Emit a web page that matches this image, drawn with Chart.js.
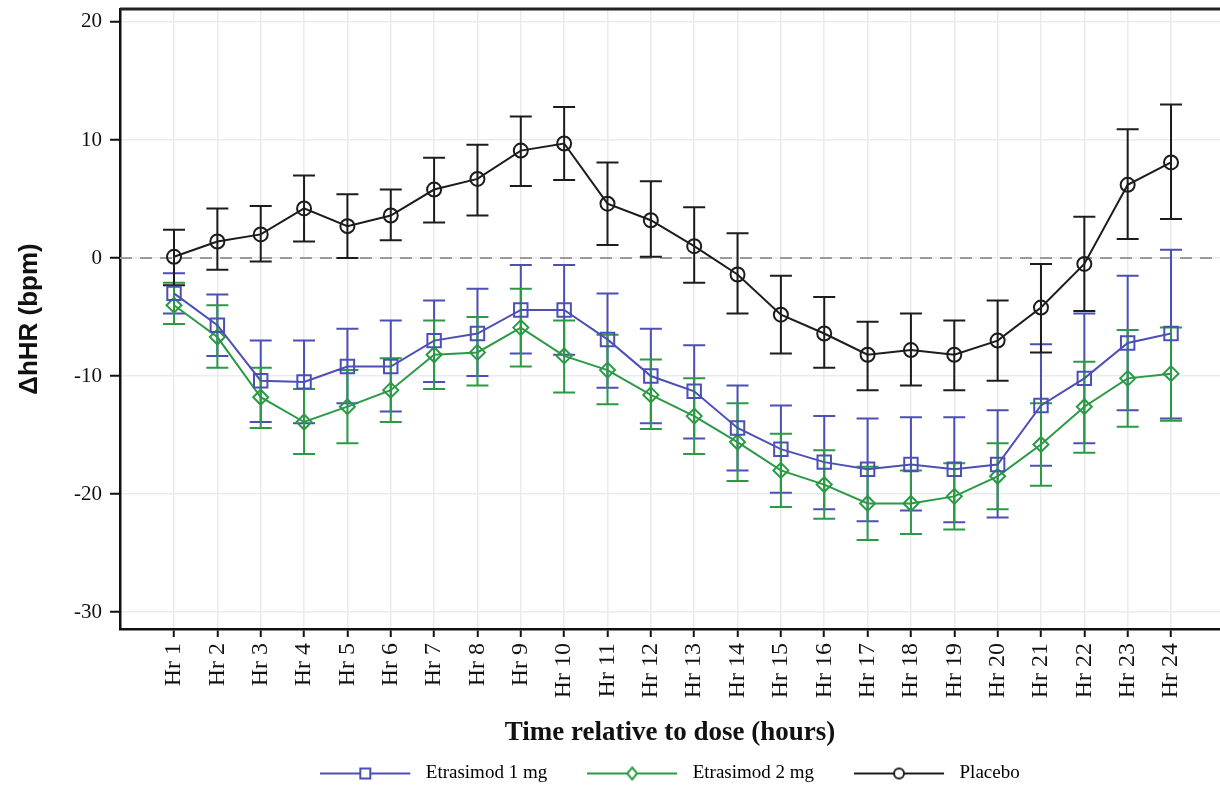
<!DOCTYPE html>
<html>
<head>
<meta charset="utf-8">
<script src="https://cdn.jsdelivr.net/npm/chart.js@4.4.1/dist/chart.umd.min.js"></script>
<style>
  html, body { margin: 0; padding: 0; background: #fff; overflow: hidden; }
  #wrap { width: 1220px; height: 793px; }
  canvas { display: block; }
</style>
</head>
<body>
<div id="wrap"><canvas id="hrChart"></canvas></div>
<script>
// hour labels on the x axis
const hours = ['Hr 1', 'Hr 2', 'Hr 3', 'Hr 4', 'Hr 5', 'Hr 6', 'Hr 7', 'Hr 8', 'Hr 9', 'Hr 10', 'Hr 11', 'Hr 12',
    'Hr 13', 'Hr 14', 'Hr 15', 'Hr 16', 'Hr 17', 'Hr 18', 'Hr 19', 'Hr 20', 'Hr 21', 'Hr 22', 'Hr 23', 'Hr 24'];
const yTicks = [-30, -20, -10, 0, 10, 20];
const refLine = 0;

// Etrasimod 1 mg
const e1 = [-3.0, -5.7, -10.4, -10.5, -9.2, -9.2, -7.0, -6.4, -4.4, -4.4, -6.9, -10.0,
    -11.3, -14.4, -16.2, -17.3, -17.9, -17.5, -17.9, -17.5, -12.5, -10.2, -7.2, -6.4];
const e1Hi = [-1.3, -3.1, -7.0, -7.0, -6.0, -5.3, -3.6, -2.6, -0.6, -0.6, -3.0, -6.0,
    -7.4, -10.8, -12.5, -13.4, -13.6, -13.5, -13.5, -12.9, -7.3, -4.7, -1.5, 0.7];
const e1Lo = [-4.7, -8.3, -13.9, -14.0, -12.3, -13.0, -10.5, -10.0, -8.1, -8.2, -11.0, -14.0,
    -15.3, -18.0, -19.9, -21.3, -22.3, -21.4, -22.4, -22.0, -17.6, -15.7, -12.9, -13.6];

// Etrasimod 2 mg
const e2 = [-4.0, -6.7, -11.8, -13.9, -12.6, -11.2, -8.2, -8.0, -5.9, -8.3, -9.5, -11.6,
    -13.4, -15.6, -18.0, -19.2, -20.8, -20.8, -20.2, -18.5, -15.8, -12.6, -10.2, -9.8];
const e2Hi = [-2.1, -4.0, -9.3, -11.1, -9.5, -8.5, -5.3, -5.0, -2.6, -5.3, -6.5, -8.6,
    -10.2, -12.3, -14.9, -16.3, -17.7, -18.0, -17.4, -15.7, -12.3, -8.8, -6.1, -5.9];
const e2Lo = [-5.6, -9.3, -14.4, -16.6, -15.7, -13.9, -11.1, -10.8, -9.2, -11.4, -12.4, -14.5,
    -16.6, -18.9, -21.1, -22.1, -23.9, -23.4, -23.0, -21.3, -19.3, -16.5, -14.3, -13.8];

// Placebo
const placebo = [0.1, 1.4, 2.0, 4.2, 2.7, 3.6, 5.8, 6.7, 9.1, 9.7, 4.6, 3.2,
    1.0, -1.4, -4.8, -6.4, -8.2, -7.8, -8.2, -7.0, -4.2, -0.5, 6.2, 8.1];
const placeboHi = [2.4, 4.2, 4.4, 7.0, 5.4, 5.8, 8.5, 9.6, 12.0, 12.8, 8.1, 6.5,
    4.3, 2.1, -1.5, -3.3, -5.4, -4.7, -5.3, -3.6, -0.5, 3.5, 10.9, 13.0];
const placeboLo = [-2.3, -1.0, -0.3, 1.4, 0.0, 1.5, 3.0, 3.6, 6.1, 6.6, 1.1, 0.1,
    -2.1, -4.7, -8.1, -9.3, -11.2, -10.8, -11.2, -10.4, -8.0, -4.5, 1.6, 3.3];

const BLUE = '#4b4fb6';
const GREEN = '#2a9a45';
const BLACK = '#1c1c1c';
const SERIF = "'Liberation Serif', 'Times New Roman', serif";

function toPoints(arr) {
    return arr.map((v, i) => ({ x: i + 1, y: v }));
}

// small line + marker picture used as the legend symbol
function legendSymbol(color, style) {
    const c = document.createElement('canvas');
    c.width = 96;
    c.height = 18;
    const g = c.getContext('2d');
    g.strokeStyle = color;
    g.lineWidth = 2;
    g.beginPath();
    g.moveTo(0, 9);
    g.lineTo(90, 9);
    g.stroke();
    g.fillStyle = '#fff';
    g.beginPath();
    if (style === 'rect') {
        g.rect(40, 4, 10, 10);
    } else if (style === 'rectRot') {
        g.moveTo(45, 3); g.lineTo(50, 9); g.lineTo(45, 15); g.lineTo(40, 9); g.closePath();
    } else {
        g.arc(45, 9, 5, 0, Math.PI * 2);
    }
    g.fill();
    g.stroke();
    return c;
}

const errorBars = {
    id: 'errorBars',
    beforeDatasetsDraw(chart) {
        const { ctx, chartArea, scales: { x, y } } = chart;
        ctx.save();
        // top frame line
        ctx.strokeStyle = '#222';
        ctx.lineWidth = 3;
        ctx.beginPath();
        ctx.moveTo(chartArea.left, chartArea.top);
        ctx.lineTo(chartArea.right, chartArea.top);
        ctx.stroke();
        // dashed reference line at 0
        const y0 = y.getPixelForValue(refLine);
        ctx.strokeStyle = '#9a9a9a';
        ctx.lineWidth = 2;
        ctx.setLineDash([12, 8]);
        ctx.beginPath();
        ctx.moveTo(chartArea.left, y0);
        ctx.lineTo(chartArea.right, y0);
        ctx.stroke();
        ctx.setLineDash([]);
        // error bars
        chart.data.datasets.forEach(ds => {
            ctx.strokeStyle = ds.borderColor;
            ctx.lineWidth = 2;
            ds.data.forEach((p, i) => {
                const px = x.getPixelForValue(p.x);
                const top = y.getPixelForValue(ds.hi[i]);
                const bot = y.getPixelForValue(ds.lo[i]);
                ctx.beginPath();
                ctx.moveTo(px, top); ctx.lineTo(px, bot);
                ctx.moveTo(px - 11, top); ctx.lineTo(px + 11, top);
                ctx.moveTo(px - 11, bot); ctx.lineTo(px + 11, bot);
                ctx.stroke();
            });
        });
        ctx.restore();
    }
};

new Chart(document.getElementById('hrChart'), {
    type: 'line',
    data: {
        datasets: [
            {
                label: 'Etrasimod 1 mg',
                data: toPoints(e1),
                hi: e1Hi,
                lo: e1Lo,
                borderColor: BLUE,
                borderWidth: 2,
                pointStyle: 'rect',
                pointRadius: 9.5,
                pointBorderWidth: 2,
                pointBackgroundColor: 'rgba(0,0,0,0)',
                pointBorderColor: BLUE,
                legendSymbol: legendSymbol(BLUE, 'rect')
            },
            {
                label: 'Etrasimod 2 mg',
                data: toPoints(e2),
                hi: e2Hi,
                lo: e2Lo,
                borderColor: GREEN,
                borderWidth: 2,
                pointStyle: 'rectRot',
                pointRadius: 7.5,
                pointBorderWidth: 2,
                pointBackgroundColor: 'rgba(0,0,0,0)',
                pointBorderColor: GREEN,
                legendSymbol: legendSymbol(GREEN, 'rectRot')
            },
            {
                label: 'Placebo',
                data: toPoints(placebo),
                hi: placeboHi,
                lo: placeboLo,
                borderColor: BLACK,
                borderWidth: 2,
                pointStyle: 'circle',
                pointRadius: 7,
                pointBorderWidth: 2,
                pointBackgroundColor: 'rgba(0,0,0,0)',
                pointBorderColor: BLACK,
                legendSymbol: legendSymbol(BLACK, 'circle')
            }
        ]
    },
    options: {
        responsive: true,
        maintainAspectRatio: false,
        animation: false,
        layout: { autoPadding: false, padding: { top: 9, left: 0, right: 0, bottom: 0 } },
        plugins: {
            tooltip: { enabled: false },
            legend: {
                position: 'bottom',
                fullSize: false,
                labels: {
                    usePointStyle: true,
                    pointStyleWidth: 96,
                    padding: 40,
                    color: '#222',
                    font: { family: SERIF, size: 19 },
                    generateLabels(chart) {
                        return chart.data.datasets.map((ds, i) => ({
                            text: ds.label,
                            pointStyle: ds.legendSymbol,
                            fillStyle: ds.borderColor,
                            strokeStyle: ds.borderColor,
                            lineWidth: 0,
                            hidden: false,
                            datasetIndex: i
                        }));
                    }
                }
            }
        },
        scales: {
            x: {
                type: 'linear',
                min: -0.246,
                max: 25.13,
                afterBuildTicks(scale) {
                    scale.ticks = hours.map((h, i) => ({ value: i + 1 }));
                },
                afterFit(scale) {
                    scale.height = 95;
                    scale.paddingLeft = 0;
                    scale.paddingRight = 0;
                },
                ticks: {
                    autoSkip: false,
                    minRotation: 90,
                    maxRotation: 90,
                    padding: 6,
                    color: '#111',
                    font: { family: SERIF, size: 24 },
                    callback: (v) => hours[v - 1]
                },
                grid: { color: '#ebebeb', lineWidth: 1.5, tickColor: '#111', tickLength: 8, tickWidth: 2 },
                border: { color: '#111', width: 2.5 },
                title: {
                    display: true,
                    text: 'Time relative to dose (hours)',
                    color: '#111',
                    font: { family: SERIF, size: 27, weight: 'bold' },
                    padding: { top: 0, bottom: -25 }
                }
            },
            y: {
                min: -31.44,
                max: 21.1,
                afterBuildTicks(scale) {
                    scale.ticks = yTicks.map(v => ({ value: v }));
                },
                afterFit(scale) {
                    scale.width = 120;
                    scale.paddingTop = 0;
                    scale.paddingBottom = 0;
                },
                ticks: {
                    padding: 8,
                    color: '#111',
                    font: { family: SERIF, size: 21 }
                },
                grid: { color: '#ebebeb', lineWidth: 1.5, tickColor: '#111', tickLength: 10, tickWidth: 2 },
                border: { color: '#111', width: 2.5 },
                title: {
                    display: true,
                    text: 'ΔhHR (bpm)',
                    color: '#111',
                    font: { family: "'Liberation Sans', Arial, sans-serif", size: 26, weight: 'bold' },
                    padding: { top: 14, bottom: 0 }
                }
            }
        }
    },
    plugins: [errorBars]
});
</script>
</body>
</html>
